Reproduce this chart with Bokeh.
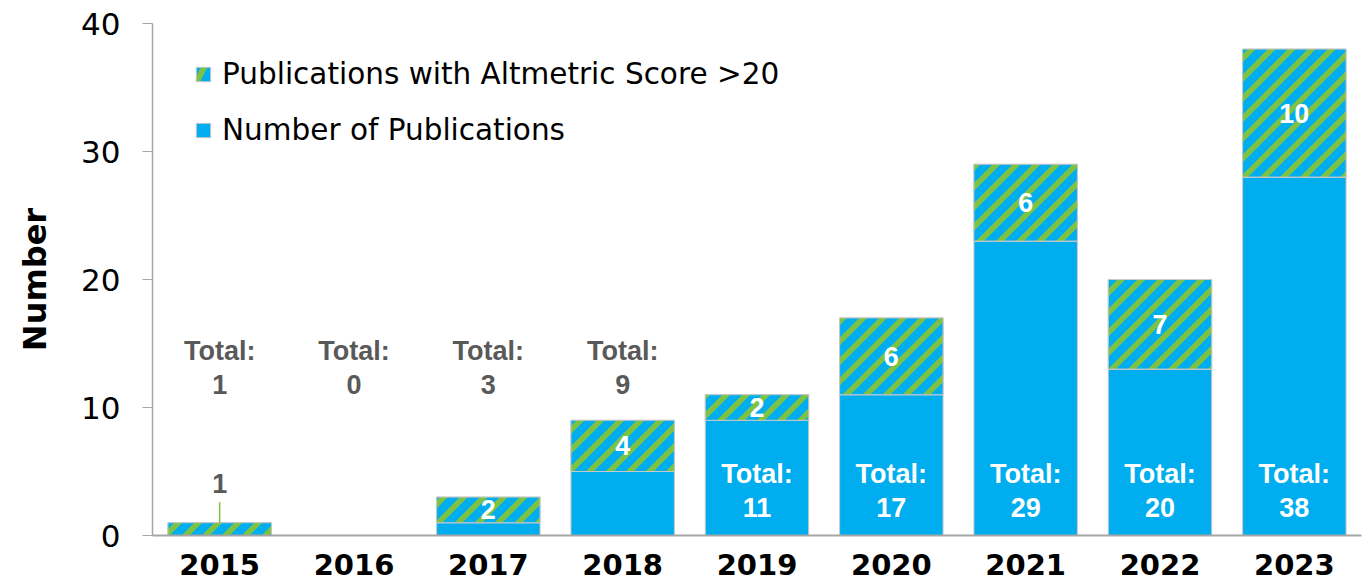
from bokeh.plotting import figure
from bokeh.models import Range1d, ColumnDataSource, Legend, LegendItem
from bokeh.core.properties import value
from bokeh.embed import file_html
from bokeh.resources import INLINE
import math

# ---- data ----
years = ["2015", "2016", "2017", "2018", "2019", "2020", "2021", "2022", "2023"]
totals = [1, 0, 3, 9, 11, 17, 29, 20, 38]
altmetric = [1, 0, 2, 4, 2, 6, 6, 7, 10]
y_ticks = [0, 10, 20, 30, 40]

base = [t - a for t, a in zip(totals, altmetric)]

BLUE = "#00AEEF"
GREEN = "#7DC243"
GRAY = "#595959"
EDGE = "#C8C8C8"
BAR_W = 0.77
Y_MAX = 40

FRAME_W, FRAME_H = 1209, 512
B_LEFT, B_RIGHT, B_TOP, B_BOTTOM = 152, 1, 23, 47

p = figure(x_range=years, y_range=Range1d(0, Y_MAX),
           width=B_LEFT + FRAME_W + B_RIGHT, height=B_TOP + FRAME_H + B_BOTTOM,
           min_border_left=B_LEFT, min_border_right=B_RIGHT, min_border_top=B_TOP,
           min_border_bottom=B_BOTTOM, output_backend="svg", toolbar_location=None)
p.outline_line_color = None
p.grid.visible = False
p.background_fill_color = "white"
p.x_range.range_padding = 0

src = ColumnDataSource(dict(year=years, base=base, total=totals, alt=altmetric,
                            zero=[0] * len(years)))

r_base = p.vbar(x="year", bottom="zero", top="base", width=BAR_W, source=src,
                fill_color=BLUE, line_color=EDGE, line_width=1)
# hatched series (its hatch is used for the legend swatch)
r_alt = p.vbar(x="year", bottom="base", top="total", width=BAR_W, source=src,
               fill_color=BLUE, line_color=EDGE, line_width=1,
               hatch_pattern="/", hatch_color=GREEN, hatch_scale=40, hatch_weight=6)
# cover with plain fill, then draw 45-degree stripes on top
p.vbar(x="year", bottom="base", top="total", width=BAR_W, source=src,
       fill_color=BLUE, line_color=None)

# ---- 45 degree stripes, computed from the bar extents ----
sx = FRAME_W / len(years)   # px per category
sy = FRAME_H / Y_MAX        # px per unit
PERIOD, THICK, PHASE = 20.0, 8.0, 3.0


def clip(poly, f):
    out = []
    n = len(poly)
    for i in range(n):
        a, b = poly[i], poly[(i + 1) % n]
        fa, fb = f(a), f(b)
        if fa >= 0:
            out.append(a)
        if (fa >= 0) != (fb >= 0):
            t = fa / (fa - fb)
            out.append((a[0] + t * (b[0] - a[0]), a[1] + t * (b[1] - a[1])))
    return out


sxs, sys_ = [], []
for i, (b, t) in enumerate(zip(base, totals)):
    if t <= b:
        continue
    X0, X1 = (i + 0.5 - BAR_W / 2) * sx, (i + 0.5 + BAR_W / 2) * sx
    Y0, Y1 = b * sy, t * sy
    rect = [(X0, Y0), (X1, Y0), (X1, Y1), (X0, Y1)]
    kmin = math.floor((Y0 - X1 - PHASE) / PERIOD) - 1
    kmax = math.ceil((Y1 - X0 - PHASE) / PERIOD) + 1
    for k in range(kmin, kmax + 1):
        c = k * PERIOD + PHASE
        poly = clip(rect, lambda q, c=c: (q[1] - q[0]) - c)
        if len(poly) < 3:
            continue
        poly = clip(poly, lambda q, c=c: c + THICK - (q[1] - q[0]))
        if len(poly) < 3:
            continue
        sxs.append([q[0] / sx for q in poly])
        sys_.append([q[1] / sy for q in poly])

p.patches(xs=sxs, ys=sys_, fill_color=GREEN, line_color=None)
# thin outline on top of the hatched segments
p.vbar(x="year", bottom="base", top="total", width=BAR_W, source=src,
       fill_color=None, line_color=EDGE, line_width=1)

# ---- total labels ----
in_x, in_num = [], []
out_x, out_num = [], []
for y, t in zip(years, totals):
    if t >= 10:
        in_x.append(y); in_num.append(str(t))
    else:
        out_x.append(y); out_num.append(str(t))

lab_font = value("Liberation Sans")
LFS = "27px"
p.text(x=out_x, y=[14.4] * len(out_x), text=["Total:"] * len(out_x), text_align="center",
       text_baseline="middle", text_font=lab_font, text_font_style="bold",
       text_font_size=LFS, text_color=GRAY)
p.text(x=out_x, y=[11.8] * len(out_x), text=out_num, text_align="center",
       text_baseline="middle", text_font=lab_font, text_font_style="bold",
       text_font_size=LFS, text_color=GRAY)
p.text(x=in_x, y=[4.8] * len(in_x), text=["Total:"] * len(in_x), text_align="center",
       text_baseline="middle", text_font=lab_font, text_font_style="bold",
       text_font_size=LFS, text_color="white")
p.text(x=in_x, y=[2.2] * len(in_x), text=in_num, text_align="center",
       text_baseline="middle", text_font=lab_font, text_font_style="bold",
       text_font_size=LFS, text_color="white")

# ---- altmetric labels ----
ain_x, ain_y, ain_t = [], [], []
aout_x, aout_y, aout_t, lead_top, lead_bot = [], [], [], [], []
for y, b, t, a in zip(years, base, totals, altmetric):
    if a == 0:
        continue
    if t - b >= 2:
        ain_x.append(y); ain_y.append((b + t) / 2); ain_t.append(str(a))
    else:
        aout_x.append(y); aout_y.append(t + 3.1); aout_t.append(str(a))
        lead_bot.append(t); lead_top.append(t + 1.6)

p.text(x=ain_x, y=ain_y, text=ain_t, text_align="center", text_baseline="middle",
       text_font=lab_font, text_font_style="bold", text_font_size=LFS, text_color="white")
p.text(x=aout_x, y=aout_y, text=aout_t, text_align="center", text_baseline="middle",
       text_font=lab_font, text_font_style="bold", text_font_size=LFS, text_color=GRAY)
p.segment(x0=aout_x, x1=aout_x, y0=lead_bot, y1=lead_top, line_color=GREEN, line_width=1.5)

# ---- axes ----
p.yaxis.ticker = y_ticks
p.yaxis.minor_tick_line_color = None
p.yaxis.major_tick_in = 0
p.yaxis.major_tick_out = 10
p.yaxis.major_tick_line_color = "#A6A6A6"
p.yaxis.axis_line_color = "#A6A6A6"
p.yaxis.axis_line_width = 1.5
p.yaxis.major_label_text_font = "DejaVu Sans"
p.yaxis.major_label_text_font_size = "31px"
p.yaxis.major_label_text_color = "black"
p.yaxis.major_label_standoff = 22
p.yaxis.axis_label = "Number"
p.yaxis.axis_label_text_font = "DejaVu Sans"
p.yaxis.axis_label_text_font_style = "bold"
p.yaxis.axis_label_text_font_size = "32px"
p.yaxis.axis_label_text_color = "black"
p.yaxis.axis_label_standoff = 24

p.xaxis.major_tick_line_color = None
p.xaxis.minor_tick_line_color = None
p.xaxis.major_tick_out = 0
p.xaxis.major_tick_in = 0
p.xaxis.axis_line_color = "#A6A6A6"
p.xaxis.axis_line_width = 2
p.xaxis.major_label_text_font = "DejaVu Sans"
p.xaxis.major_label_text_font_style = "bold"
p.xaxis.major_label_text_font_size = "29px"
p.xaxis.major_label_text_color = "black"
p.xaxis.major_label_text_line_height = 0.8
p.xaxis.major_label_standoff = 18

# ---- legend ----
legend = Legend(items=[LegendItem(label="Publications with Altmetric Score >20", renderers=[r_alt]),
                       LegendItem(label="Number of Publications", renderers=[r_base])],
                location=(32, 378))
legend.label_text_font = "DejaVu Sans"
legend.label_text_font_size = "29.5px"
legend.label_text_color = "black"
legend.glyph_width = 18
legend.glyph_height = 18
legend.label_standoff = 10
legend.label_height = 30
legend.spacing = 22
legend.margin = 0
legend.padding = 10
legend.border_line_alpha = 0
legend.background_fill_alpha = 0
p.add_layout(legend)

open("out.html", "w").write(file_html(p, INLINE))
